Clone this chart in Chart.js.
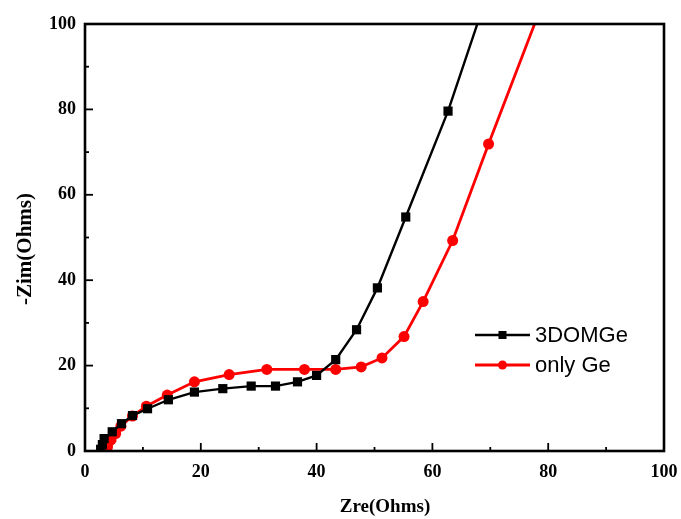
<!DOCTYPE html>
<html>
<head>
<meta charset="utf-8">
<script src="https://cdn.jsdelivr.net/npm/chart.js@4/dist/chart.umd.min.js"></script>
<style>
html,body{margin:0;padding:0;background:#fff;}
#wrap{width:681px;height:519px;}
</style>
</head>
<body>
<div id="wrap"><canvas id="c" width="681" height="519"></canvas></div>
<script>
// Data (Nyquist plot)
const seriesNames = ["3DOMGe", "only Ge"];
const domX = [2.7, 3.0, 3.3, 4.7, 6.3, 8.2, 10.8, 14.4, 18.9, 23.8, 28.7, 32.9, 36.7, 40.0, 43.3, 46.9, 50.5, 55.4, 62.7, 68.5];
const domY = [0.4, 1.5, 2.9, 4.5, 6.4, 8.3, 9.9, 12.0, 13.8, 14.6, 15.2, 15.2, 16.2, 17.7, 21.4, 28.4, 38.2, 54.8, 79.6, 103];
const geX = [3.7, 3.9, 4.5, 5.3, 6.2, 8.2, 10.6, 14.2, 18.9, 24.9, 31.4, 37.9, 43.3, 47.7, 51.3, 55.1, 58.4, 63.5, 69.7, 78.5];
const geY = [0.3, 1.0, 2.6, 4.1, 5.8, 8.2, 10.5, 13.1, 16.2, 17.9, 19.1, 19.1, 19.1, 19.7, 21.8, 26.8, 35.0, 49.3, 71.9, 103];
const xTicks = [0, 20, 40, 60, 80, 100];
const yTicks = [0, 20, 40, 60, 80, 100];
const xTitle = "Zre(Ohms)";
const yTitle = "-Zim(Ohms)";

const toPts = (xs, ys) => xs.map((x, i) => ({x: x, y: ys[i]}));
const radii = (n, r) => Array.from({length: n}, (_, i) => i === n - 1 ? 0 : r);

const serif = "'Liberation Serif', 'Times New Roman', serif";
const sans = "'Liberation Sans', Arial, sans-serif";

const framePlugin = {
  id: 'frame',
  afterDatasetsDraw(chart) {
    const {ctx, chartArea: a, scales: {x, y}} = chart;
    ctx.save();
    ctx.strokeStyle = '#000';
    ctx.lineWidth = 1.8;
    // inward ticks
    for (let v = 0; v <= 100; v += 10) {
      const major = v % 20 === 0;
      const len = major ? 8 : 4;
      const px = x.getPixelForValue(v);
      ctx.beginPath(); ctx.moveTo(px, a.bottom); ctx.lineTo(px, a.bottom - len); ctx.stroke();
      const py = y.getPixelForValue(v);
      ctx.beginPath(); ctx.moveTo(a.left, py); ctx.lineTo(a.left + len, py); ctx.stroke();
    }
    ctx.lineWidth = 2.6;
    ctx.strokeRect(a.left, a.top, a.right - a.left, a.bottom - a.top);
    // axis titles
    ctx.fillStyle = '#000';
    ctx.textAlign = 'center';
    ctx.textBaseline = 'middle';
    ctx.font = "bold 19px " + serif;
    ctx.fillText(xTitle, 385, 507);
    ctx.save();
    ctx.translate(26, 249);
    ctx.rotate(-Math.PI / 2);
    ctx.font = "bold 21px " + serif;
    ctx.fillText(yTitle, 0, 0);
    ctx.restore();
    // legend
    const items = chart.data.datasets;
    const lx0 = 475, lx1 = 530, tx = 535;
    const rows = [335, 365];
    items.forEach((ds, i) => {
      const yy = rows[i];
      ctx.strokeStyle = ds.borderColor;
      ctx.lineWidth = ds.borderWidth;
      ctx.beginPath(); ctx.moveTo(lx0, yy); ctx.lineTo(lx1, yy); ctx.stroke();
      ctx.fillStyle = ds.borderColor;
      const cx = (lx0 + lx1) / 2;
      if (ds.pointStyle === 'rect') {
        ctx.fillRect(cx - 4, yy - 4, 8, 8);
      } else {
        ctx.beginPath(); ctx.arc(cx, yy, 4.5, 0, Math.PI * 2); ctx.fill();
      }
      ctx.fillStyle = '#000';
      ctx.font = "22px " + sans;
      ctx.textBaseline = 'middle';
      ctx.textAlign = 'left';
      ctx.fillText(ds.label, tx, yy + 1);
    });
    ctx.restore();
  }
};

new Chart(document.getElementById('c'), {
  type: 'scatter',
  data: {
    datasets: [
      {
        label: seriesNames[0],
        data: toPts(domX, domY),
        showLine: true,
        borderColor: '#000000',
        backgroundColor: '#000000',
        borderWidth: 2.4,
        pointStyle: 'rect',
        pointRadius: radii(domX.length, 6.5),
        pointBorderWidth: 0,
        tension: 0
      },
      {
        label: seriesNames[1],
        data: toPts(geX, geY),
        showLine: true,
        borderColor: '#ff0000',
        backgroundColor: '#ff0000',
        borderWidth: 2.8,
        pointStyle: 'circle',
        pointRadius: radii(geX.length, 5.5),
        pointBorderWidth: 0,
        tension: 0
      }
    ]
  },
  options: {
    responsive: false,
    animation: false,
    devicePixelRatio: 1,
    layout: {padding: {top: 24, right: 17, left: 0, bottom: 0}},
    plugins: {legend: {display: false}, tooltip: {enabled: false}},
    scales: {
      x: {
        type: 'linear', min: 0, max: 100,
        afterFit(s) { s.height = 68; },
        afterBuildTicks(s) { s.ticks = xTicks.map(v => ({value: v})); },
        grid: {display: false},
        border: {display: false},
        ticks: {color: '#000', padding: 3, font: {family: serif, size: 18, weight: 'bold'}, maxRotation: 0},
        title: {display: false}
      },
      y: {
        type: 'linear', min: 0, max: 100,
        afterFit(s) { s.width = 85; },
        afterBuildTicks(s) { s.ticks = yTicks.map(v => ({value: v})); },
        grid: {display: false},
        border: {display: false},
        ticks: {color: '#000', padding: 1, font: {family: serif, size: 18, weight: 'bold'}},
        title: {display: false}
      }
    }
  },
  plugins: [framePlugin]
});
</script>
</body>
</html>
